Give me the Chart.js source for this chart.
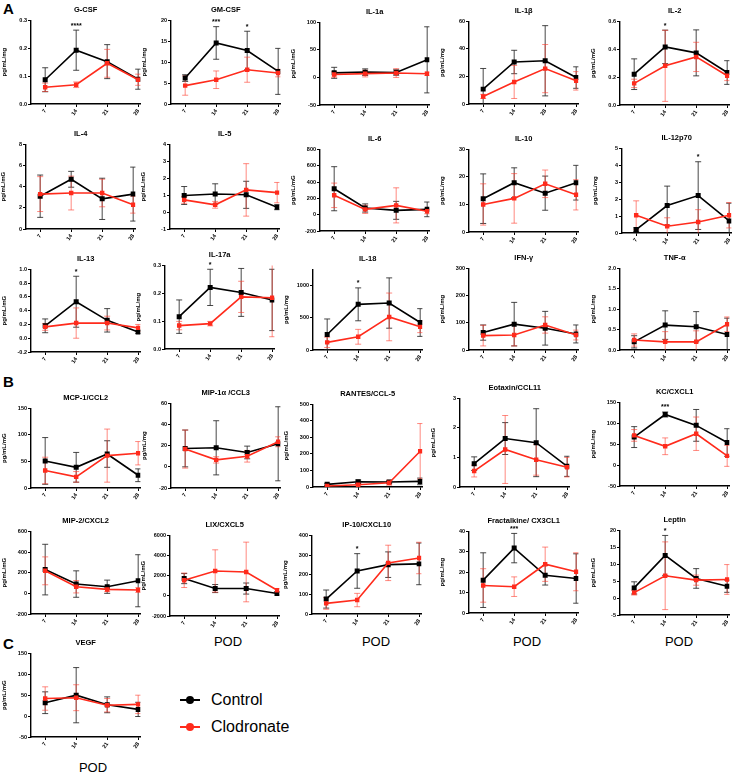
<!DOCTYPE html>
<html>
<head>
   <meta charset="UTF-8">
   <title>Cytokines by POD</title>
   <script src="https://cdn.jsdelivr.net/npm/chart.js"></script>
   <style>
       body {
           margin: 0;
           background: #fff;
           font-family: "Liberation Sans", Arial, sans-serif;
       }
       #page {
           position: relative;
           width: 750px;
           height: 777px;
           overflow: hidden;
       }
       .panel {
           position: absolute;
       }
       .letter {
           position: absolute;
           font-weight: bold;
           font-size: 15px;
       }
       .pod {
           position: absolute;
           font-size: 13px;
           width: 60px;
           margin-left: -30px;
           text-align: center;
       }
       .key {
           position: absolute;
           left: 180px;
           font-size: 16px;
           height: 20px;
           line-height: 20px;
       }
       .key .ln {
           position: absolute;
           left: 0;
           top: 9px;
           width: 20px;
           height: 2px;
       }
       .key .dot {
           position: absolute;
           left: 6px;
           top: 6px;
           width: 8px;
           height: 8px;
           border-radius: 50%;
       }
       .key span {
           position: absolute;
           left: 31px;
           top: 0;
       }
   </style>
</head>
<body>
<div id="page">
   <div class="letter" style="left:3px;top:0px">A</div>
   <div class="letter" style="left:3px;top:373px">B</div>
   <div class="letter" style="left:3px;top:635px">C</div>

   <div class="pod" style="left:228px;top:634px">POD</div>
   <div class="pod" style="left:376px;top:634px">POD</div>
   <div class="pod" style="left:527px;top:634px">POD</div>
   <div class="pod" style="left:679px;top:634px">POD</div>
   <div class="pod" style="left:93px;top:760px">POD</div>

   <div class="key" style="top:690px">
       <div class="ln" style="background:#000"></div>
       <div class="dot" style="background:#000"></div>
       <span>Control</span>
   </div>
   <div class="key" style="top:717px">
       <div class="ln" style="background:#ff2b1c"></div>
       <div class="dot" style="background:#ff2b1c"></div>
       <span>Clodronate</span>
   </div>
</div>

<script>
// jours post-op
const days = [7, 14, 21, 28];
const dayLabels = ['7', '14', '21', '28'];
const il1bDayLabels = ['7', '14', '28', '28'];   // as printed in the figure

const panelNames = [
    'G-CSF', 'GM-CSF', 'IL-1a', 'IL-1β', 'IL-2',
    'IL-4', 'IL-5', 'IL-6', 'IL-10', 'IL-12p70',
    'IL-13', 'IL-17a', 'IL-18', 'IFN-γ', 'TNF-α',
    'MCP-1/CCL2', 'MIP-1α /CCL3', 'RANTES/CCL-5', 'Eotaxin/CCL11', 'KC/CXCL1',
    'MIP-2/CXCL2', 'LIX/CXCL5', 'IP-10/CXCL10', 'Fractalkine/ CX3CL1', 'Leptin',
    'VEGF'
];

const yTitles = [
    'pg/mL/mg', 'pg/mL/mg', 'pg/mL/mG', 'pg/mL/mg', 'pg/mL/mG',
    'pg/mL/mG', 'pg/mL/mG', 'pg/mL/mG', 'pg/mL/mg', 'pg/mL/mg',
    'pg/mL/mG', 'pg/mL/mg', 'pg/mL/mg', 'pg/mL/mg', 'pg/mL/mg',
    'pg/mL/mG', 'pg/mL/mg', 'pg/mL/mG', 'pg/mL/mG', 'pg/mL/mg',
    'pg/mL/mG', 'pg/mL/mG', 'pg/mL/mg', 'pg/mL/mg', 'pg/mL/mG',
    'pg/mL/mG'
];

// [min, max, step]
const yAxes = [
    [0, 0.3, 0.1], [0, 20, 5], [-50, 100, 50], [0, 60, 20], [0, 0.6, 0.2],
    [0, 8, 2], [-1, 4, 1], [-200, 800, 200], [0, 30, 10], [0, 5, 1],
    [-0.2, 1.0, 0.2], [0, 0.3, 0.1], [0, 1250, 500], [0, 300, 100], [0, 2, 0.5],
    [0, 150, 50], [-20, 60, 20], [0, 500, 100], [0, 3, 1], [-50, 150, 50],
    [-200, 600, 200], [-2000, 6000, 2000], [0, 400, 100], [0, 40, 10], [-5, 20, 5],
    [-50, 150, 50]
];

const controlMean = [
    [0.087, 0.193, 0.152, 0.089], [6.2, 14.6, 12.8, 7.8], [8.4, 9.6, 9, 32], [10.8, 30.5, 31.4, 19.2], [0.221, 0.417, 0.374, 0.233],
    [3.1, 4.7, 2.85, 3.3], [0.98, 1.07, 1.02, 0.29], [318, 82, 53, 65], [12.1, 17.9, 14.1, 17.9], [0.2, 1.62, 2.21, 0.71],
    [0.18, 0.53, 0.26, 0.09], [0.116, 0.221, 0.203, 0.176], [241, 708, 728, 426], [64, 95, 80, 59], [0.2, 0.61, 0.57, 0.38],
    [51, 39, 64, 24], [17.4, 18, 13.6, 21.8], [16, 32, 30, 34], [0.79, 1.64, 1.5, 0.7], [67, 121, 95, 54],
    [230, 90, 64, 122], [1710, 724, 724, 230], [76, 219, 251, 255], [16.1, 31.8, 18.5, 16.9], [3.0, 12.6, 5.8, 3.5],
    [32, 50, 27, 16]
];
const controlSD = [
    [0.043, 0.072, 0.061, 0.036], [0.8, 3.9, 4.6, 5.5], [10, 6, 5, 60], [15, 8.5, 25.5, 7.8], [0.11, 0.12, 0.165, 0.085],
    [2.0, 0.75, 1.95, 2.55], [0.53, 0.6, 0.8, 0.15], [270, 50, 110, 90], [9, 5.4, 6.2, 6.3], [0.1, 1.15, 2.0, 1.05],
    [0.1, 0.37, 0.17, 0.02], [0.06, 0.065, 0.086, 0.11], [240, 255, 390, 215], [28, 80, 62, 33], [0.15, 0.35, 0.37, 0.4],
    [44, 28, 25, 12], [17.4, 25.6, 6, 35], [6, 10, 8, 20], [0.23, 0.54, 1.15, 0.34], [25, 6, 38, 33],
    [245, 128, 64, 252], [500, 400, 550, 150], [46, 88, 65, 106], [13.4, 7.2, 4.8, 12.1], [1.8, 5.9, 2.9, 1.8],
    [26, 66, 19, 17]
];
const clodMean = [
    [0.060, 0.069, 0.146, 0.087], [4.4, 5.8, 8.2, 7.4], [5.4, 7, 8, 6.6], [5.5, 16, 25.7, 16.8], [0.155, 0.281, 0.345, 0.21],
    [3.3, 3.4, 3.4, 2.3], [0.72, 0.43, 1.31, 1.15], [237, 65, 114, 41], [10.0, 12.2, 17.5, 13.5], [1.05, 0.4, 0.65, 1.05],
    [0.165, 0.22, 0.22, 0.15], [0.084, 0.091, 0.187, 0.184], [118, 205, 513, 359], [53, 55, 92, 55], [0.245, 0.2, 0.2, 0.63],
    [33, 21, 61, 65.5], [16.8, 6.6, 10, 23.7], [6, 14, 26, 216], [0.54, 1.27, 0.92, 0.67], [71, 45, 75, 22],
    [218, 64, 38, 32], [1546, 2467, 2368, 560], [54, 71, 260, 285], [13.5, 12.9, 23.9, 20.2], [1.6, 6.6, 5.3, 5.5],
    [42, 44, 26, 28]
];
const clodSD = [
    [0.015, 0.01, 0.05, 0.02], [2.3, 2.1, 3.0, 0.9], [5, 6, 8, 3], [1.5, 12, 17.5, 6.7], [0.03, 0.255, 0.105, 0.035],
    [1.65, 1.6, 1.3, 0.8], [0.2, 0.2, 1.55, 0.6], [150, 50, 215, 30], [7.5, 9, 5, 5.5], [0.85, 0.5, 0.73, 0.75],
    [0.05, 0.22, 0.1, 0.05], [0.015, 0.008, 0.056, 0.14], [80, 115, 370, 90], [38, 40, 30, 18], [0.15, 0.25, 0.27, 0.18],
    [25, 10, 50, 22], [18, 3, 5.5, 4.7], [4, 6, 15, 168], [0.2, 1.15, 0.52, 0.33], [14, 20, 40, 25],
    [135, 60, 22, 22], [720, 2100, 2960, 170], [30, 34, 90, 80], [8.2, 4.8, 8.4, 9.3], [0.7, 10, 1.5, 4.4],
    [28, 31, 16, 22]
];

// significance marks, by panel index
const stars = {
    0: ['', '****', '', ''], 1: ['', '***', '*', ''], 4: ['', '*', '', ''], 9: ['', '', '*', ''],
    10: ['', '*', '', ''], 11: ['', '*', '', ''], 12: ['', '*', '', ''], 19: ['', '***', '', ''],
    22: ['', '*', '', ''], 23: ['', '***', '', ''], 24: ['', '*', '', '']
};

// placement: [y axis x, plot top, plot bottom]
const panelBoxes = [
    [31, 20, 104], [171, 20, 104], [320, 22, 105], [469, 21, 104], [620, 21, 105],
    [26, 144, 229], [170, 144, 229], [320, 149, 231], [469, 149, 232], [622, 148, 233],
    [31, 269, 352], [165, 265, 349], [313, 269, 350], [469, 268, 350], [620, 268, 350],
    [31, 408, 488], [171, 403, 488], [313, 404, 487], [460, 398, 487], [620, 402, 486],
    [31, 531, 614], [170, 535, 616], [312, 535, 614], [469, 531, 613], [620, 530, 615],
    [31, 653, 737]
];

const RED = '#ff2b1c';
const FONT = '"Liberation Sans", Arial, sans-serif';
const titleH = 17, bottomH = 20, plotW = 111, padR = 4;

// barres d'erreur + étoiles
const errorBars = {
    id: 'errorBars',
    beforeDatasetsDraw(chart) {
        const {ctx, chartArea, scales: {x, y}} = chart;
        ctx.save();
        ctx.beginPath();
        ctx.rect(chartArea.left, chartArea.top, chartArea.width, chartArea.height);
        ctx.clip();
        chart.data.datasets.forEach(ds => {
            ctx.strokeStyle = ds.errColor;
            ctx.lineWidth = 1;
            ds.data.forEach((p, k) => {
                const e = ds.errors[k];
                const px = x.getPixelForValue(p.x);
                const yt = y.getPixelForValue(p.y + e);
                const yb = y.getPixelForValue(p.y - e);
                ctx.beginPath();
                ctx.moveTo(px, yt); ctx.lineTo(px, yb);
                ctx.moveTo(px - 3, yt); ctx.lineTo(px + 3, yt);
                ctx.moveTo(px - 3, yb); ctx.lineTo(px + 3, yb);
                ctx.stroke();
            });
        });
        ctx.restore();
    },
    afterDatasetsDraw(chart) {
        const marks = chart.options.plugins.errorBars.marks;
        if (!marks) return;
        const {ctx, scales: {x, y}} = chart;
        const [c, r] = chart.data.datasets;
        ctx.save();
        ctx.fillStyle = '#000';
        ctx.font = 'bold 7px ' + FONT;
        ctx.textAlign = 'center';
        ctx.textBaseline = 'bottom';
        marks.forEach((m, k) => {
            if (!m) return;
            const top = Math.max(c.data[k].y + c.errors[k], r.data[k].y + r.errors[k]);
            ctx.fillText(m, x.getPixelForValue(days[k]), y.getPixelForValue(top) - 1);
        });
        ctx.restore();
    }
};

function decimals(step) {
    const s = String(step);
    return s.includes('.') ? s.split('.')[1].length : 0;
}

function makePanel(i) {
    const [ax, top, bottom] = panelBoxes[i];
    const [yMin, yMax, yStep] = yAxes[i];
    const labels = i === 3 ? il1bDayLabels : dayLabels;
    const leftW = Math.min(30, ax);
    const w = leftW + plotW + padR;
    const h = titleH + (bottom - top) + bottomH;

    const div = document.createElement('div');
    div.className = 'panel';
    div.style.left = (ax - leftW) + 'px';
    div.style.top = (top - titleH) + 'px';
    const canvas = document.createElement('canvas');
    canvas.width = w;
    canvas.height = h;
    div.appendChild(canvas);
    document.getElementById('page').appendChild(div);

    const yTicks = [];
    for (let v = yMin; v <= yMax + 1e-9; v += yStep) yTicks.push(Math.round(v * 1e6) / 1e6);
    const dec = decimals(yStep);

    new Chart(canvas, {
        type: 'line',
        data: {
            datasets: [
                {
                    label: 'Control',
                    data: days.map((d, k) => ({x: d, y: controlMean[i][k]})),
                    errors: controlSD[i],
                    errColor: 'rgba(40,40,40,0.85)',
                    borderColor: '#000',
                    backgroundColor: '#000',
                    borderWidth: 1.6,
                    pointStyle: 'rect',
                    pointRadius: 2.4,
                    order: 2
                },
                {
                    label: 'Clodronate',
                    data: days.map((d, k) => ({x: d, y: clodMean[i][k]})),
                    errors: clodSD[i],
                    errColor: 'rgba(255,60,45,0.6)',
                    borderColor: RED,
                    backgroundColor: RED,
                    borderWidth: 1.6,
                    pointStyle: 'rect',
                    pointRadius: 2,
                    order: 1
                }
            ]
        },
        options: {
            responsive: false,
            animation: false,
            layout: { padding: { left: 0, right: padR, top: 0, bottom: 0 } },
            plugins: {
                legend: { display: false },
                tooltip: { enabled: false },
                title: {
                    display: true,
                    text: panelNames[i],
                    color: '#000',
                    fullSize: false,
                    font: { family: FONT, size: 7.5, weight: 'bold', lineHeight: 1.25 },
                    padding: { top: 2, bottom: 6 }
                },
                errorBars: { marks: stars[i] }
            },
            scales: {
                x: {
                    type: 'linear',
                    min: 3.8,
                    max: 28.5,
                    afterBuildTicks: s => { s.ticks = days.map(v => ({value: v})); },
                    afterFit: s => { s.height = bottomH; },
                    ticks: {
                        autoSkip: false,
                        minRotation: 55,
                        maxRotation: 55,
                        padding: 1,
                        color: '#000',
                        font: { family: FONT, size: 5.5, weight: 'bold' },
                        callback: (v, idx) => labels[idx]
                    },
                    grid: { drawOnChartArea: false, drawTicks: true, tickLength: 3, color: '#000', lineWidth: 1 },
                    border: { display: true, color: '#000', width: 1.4 }
                },
                y: {
                    type: 'linear',
                    min: yMin,
                    max: yMax,
                    afterBuildTicks: s => { s.ticks = yTicks.map(v => ({value: v})); },
                    afterFit: s => { s.width = leftW; },
                    ticks: {
                        padding: 1,
                        color: '#000',
                        font: { family: FONT, size: 5.5, weight: 'bold' },
                        callback: v => Number(v).toFixed(dec)
                    },
                    title: {
                        display: true,
                        text: yTitles[i],
                        color: '#000',
                        padding: 0,
                        font: { family: FONT, size: 6, weight: 'bold' }
                    },
                    grid: { drawOnChartArea: false, drawTicks: true, tickLength: 3, color: '#000', lineWidth: 1 },
                    border: { display: true, color: '#000', width: 1.4 }
                }
            }
        },
        plugins: [errorBars]
    });
}

panelNames.forEach((_, i) => makePanel(i));
</script>
</body>
</html>
